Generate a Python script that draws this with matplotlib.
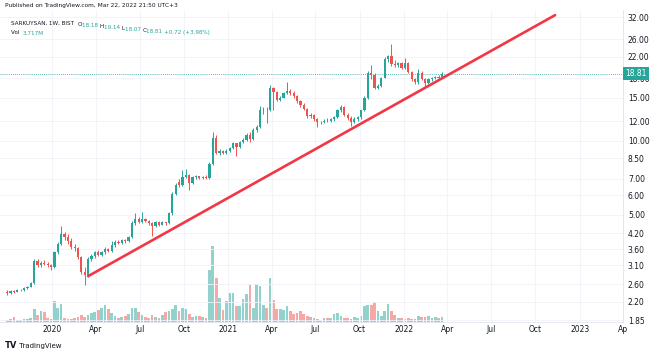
import numpy as np
import pandas as pd
import matplotlib
matplotlib.use("Agg")
import matplotlib.pyplot as plt
import matplotlib.dates as mdates
import matplotlib.transforms as mtransforms
from matplotlib.text import Annotation
from matplotlib.ticker import NullLocator

# SARKUYSAN weekly candles, week of 2019-09-30 .. 2022-03-21
start_week = "2019-09-30"
opens = [2.42, 2.38, 2.43, 2.42, 2.46, 2.45, 2.51, 2.54, 2.62, 3.22,
         3.10, 3.16, 3.14, 3.12, 3.05, 3.50, 3.80, 4.15, 4.05, 3.90,
         3.70, 3.65, 3.35, 2.92, 2.82, 3.30, 3.38, 3.50, 3.42, 3.50,
         3.62, 3.55, 3.75, 3.87, 3.82, 3.93, 3.88, 4.03, 4.60, 4.80,
         4.65, 4.78, 4.72, 4.60, 4.50, 4.67, 4.55, 4.64, 4.60, 5.05,
         6.09, 6.80, 6.60, 7.13, 7.24, 6.70, 7.10, 7.15, 7.02, 7.12,
         7.05, 8.05, 10.25, 8.90, 9.05, 8.90, 9.10, 9.35, 9.75, 9.40,
         9.85, 10.10, 10.55, 10.20, 11.05, 11.40, 13.35, 13.40, 13.30, 16.40,
         15.80, 14.70, 15.00, 15.60, 16.00, 15.70, 15.20, 14.50, 14.00, 13.50,
         12.60, 12.80, 12.30, 11.90, 11.95, 12.10, 12.00, 12.25, 12.50, 13.30,
         13.80, 12.80, 12.40, 11.95, 12.30, 12.45, 13.30, 14.90, 19.00, 18.60,
         16.50, 16.80, 18.10, 21.60, 22.10, 20.60, 20.30, 20.70, 19.90, 20.80,
         19.10, 17.80, 17.30, 19.00, 17.90, 17.20, 17.80, 18.00, 18.25, 18.18]
highs = [2.45, 2.45, 2.47, 2.48, 2.49, 2.53, 2.56, 2.64, 3.30, 3.28,
         3.22, 3.25, 3.20, 3.15, 3.55, 3.85, 4.50, 4.25, 4.15, 4.00,
         3.80, 3.70, 3.40, 3.05, 3.35, 3.45, 3.55, 3.58, 3.55, 3.70,
         3.66, 3.90, 3.95, 3.92, 3.98, 3.97, 4.08, 4.70, 5.05, 4.90,
         5.10, 4.85, 4.75, 4.65, 4.72, 4.70, 4.70, 4.68, 5.10, 6.15,
         6.70, 6.95, 7.60, 7.70, 7.30, 7.20, 7.25, 7.20, 7.20, 7.25,
         8.20, 10.90, 10.60, 9.30, 9.15, 9.25, 9.45, 9.90, 9.80, 9.95,
         10.30, 10.80, 10.90, 11.30, 11.60, 13.90, 13.70, 13.80, 16.90, 16.60,
         16.00, 15.20, 15.80, 17.30, 16.30, 15.90, 15.40, 14.70, 14.20, 13.60,
         13.00, 12.90, 12.40, 12.10, 12.30, 12.40, 12.40, 12.60, 13.50, 14.00,
         13.90, 13.00, 12.60, 12.50, 12.60, 13.40, 15.20, 19.30, 20.30, 18.90,
         17.00, 18.30, 21.90, 22.40, 24.90, 21.40, 21.00, 21.00, 21.80, 20.90,
         19.30, 18.00, 19.70, 19.20, 18.10, 18.00, 18.30, 18.40, 18.60, 19.14]
lows = [2.35, 2.36, 2.40, 2.41, 2.43, 2.44, 2.49, 2.52, 2.60, 3.05,
        3.06, 3.10, 3.05, 2.98, 3.02, 3.45, 3.75, 3.95, 3.80, 3.60,
        3.55, 3.30, 2.85, 2.58, 2.78, 3.22, 3.32, 3.38, 3.40, 3.45,
        3.50, 3.52, 3.70, 3.78, 3.80, 3.84, 3.85, 4.00, 4.55, 4.60,
        4.60, 4.65, 4.55, 4.08, 4.45, 4.48, 4.52, 4.55, 4.58, 5.00,
        6.00, 6.50, 6.55, 7.05, 6.29, 6.65, 6.95, 6.95, 6.95, 6.95,
        7.00, 8.00, 8.80, 8.75, 8.80, 8.85, 9.00, 9.25, 8.70, 9.35,
        9.75, 10.00, 9.90, 10.10, 10.90, 11.30, 12.90, 11.80, 13.20, 13.30,
        14.50, 14.60, 14.90, 15.50, 15.40, 15.00, 14.30, 13.80, 13.30, 12.40,
        12.40, 12.10, 11.40, 11.70, 11.80, 11.90, 11.90, 12.10, 12.40, 13.10,
        12.60, 12.20, 11.50, 11.80, 12.10, 12.30, 13.20, 14.80, 17.90, 16.30,
        16.20, 16.60, 18.00, 21.00, 20.20, 20.00, 20.00, 19.60, 19.70, 18.90,
        17.60, 17.00, 17.10, 17.70, 16.40, 17.00, 17.60, 17.80, 17.90, 18.07]
closes = [2.38, 2.43, 2.42, 2.46, 2.45, 2.51, 2.54, 2.62, 3.22, 3.10,
          3.16, 3.14, 3.12, 3.05, 3.50, 3.80, 4.15, 4.05, 3.90, 3.70,
          3.65, 3.35, 2.92, 2.82, 3.30, 3.38, 3.50, 3.42, 3.50, 3.62,
          3.55, 3.75, 3.87, 3.82, 3.93, 3.88, 4.03, 4.60, 4.80, 4.65,
          4.78, 4.72, 4.60, 4.50, 4.67, 4.55, 4.64, 4.60, 5.05, 6.09,
          6.59, 6.60, 7.13, 7.24, 6.70, 7.10, 7.15, 7.02, 7.12, 7.05,
          8.05, 10.25, 8.90, 9.05, 8.90, 9.10, 9.35, 9.75, 9.40, 9.85,
          10.10, 10.55, 10.20, 11.05, 11.40, 13.35, 13.40, 13.30, 16.40, 15.80,
          14.70, 15.00, 15.60, 16.00, 15.70, 15.20, 14.50, 14.00, 13.50, 12.60,
          12.80, 12.30, 11.90, 11.95, 12.10, 12.00, 12.25, 12.50, 13.30, 13.80,
          12.80, 12.40, 11.95, 12.30, 12.45, 13.30, 14.90, 19.00, 18.60, 16.50,
          16.80, 18.10, 21.60, 22.10, 20.60, 20.30, 20.70, 19.90, 20.80, 19.10,
          17.80, 17.30, 19.00, 17.90, 17.20, 17.80, 18.00, 18.25, 18.09, 18.81]
# volume in millions
volumes = [1.6, 2.5, 4.1, 1.6, 1.6, 2.5, 2.5, 3.3, 10.7, 5.7,
           9.0, 8.2, 3.3, 2.5, 17.2, 11.5, 14.8, 3.3, 2.5, 2.5,
           3.3, 4.1, 5.7, 4.1, 5.7, 7.4, 8.2, 9.8, 11.5, 13.9,
           10.7, 7.4, 4.9, 3.3, 4.1, 4.9, 6.6, 11.5, 11.5, 8.2,
           5.7, 4.1, 3.3, 5.7, 4.1, 3.3, 5.7, 8.2, 9.0, 10.7,
           13.9, 9.0, 11.5, 10.7, 6.6, 4.1, 4.9, 4.9, 4.1, 3.3,
           42.6, 62.3, 36.1, 19.7, 9.8, 17.2, 23.8, 23.8, 13.1, 13.1,
           18.9, 23.0, 30.3, 11.5, 31.2, 29.5, 13.9, 11.5, 36.1, 18.0,
           10.7, 10.7, 9.8, 13.1, 9.0, 6.6, 7.4, 9.0, 6.6, 4.9,
           4.1, 3.3, 2.5, 0.8, 3.3, 3.3, 3.3, 6.6, 7.4, 4.9,
           3.3, 3.3, 2.5, 4.1, 3.3, 4.9, 13.1, 13.9, 13.9, 16.4,
           9.0, 4.9, 9.0, 14.8, 9.0, 5.7, 3.3, 3.3, 2.5, 3.3,
           2.5, 2.5, 4.9, 4.1, 4.1, 4.9, 3.3, 4.1, 3.3, 3.717]

trend_dates = ["2020-03-16", "2022-11-11"]
trend_prices = [2.80, 32.6]

price_ticks = [1.85, 2.20, 2.60, 3.10, 3.60, 4.20, 5.00, 6.00, 7.00, 8.50,
               10.00, 12.00, 15.00, 18.00, 22.00, 26.00, 32.00]
time_ticks = ["2020-01-01", "2020-04-01", "2020-07-01", "2020-10-01",
              "2021-01-01", "2021-04-01", "2021-07-01", "2021-10-01",
              "2022-01-01", "2022-04-01", "2022-07-01", "2022-10-01",
              "2023-01-01", "2023-04-01"]
time_labels = ["2020", "Apr", "Jul", "Oct", "2021", "Apr", "Jul", "Oct",
               "2022", "Apr", "Jul", "Oct", "2023", "Ap"]

UP = "#26a69a"
DOWN = "#ef5350"
TEXT = "#131722"
GRID = "#f0f3fa"

plt.rcParams["font.family"] = ["DejaVu Sans"]

x = mdates.date2num(pd.date_range(start_week, periods=len(closes), freq="7D"))
o = np.array(opens)
h = np.array(highs)
l = np.array(lows)
c = np.array(closes)
up = c >= o
colors = np.where(up, UP, DOWN)

W, H = 654, 354
fig = plt.figure(figsize=(W / 100, H / 100), dpi=100)
rect = [0, 1 - 322 / H, 623 / W, (322 - 10) / H]

# volume pane shares the bottom of the price pane
vax = fig.add_axes(rect)
vax.bar(x, volumes, width=5.6, color=colors, alpha=0.5, linewidth=0)
vax.set_ylim(0, 256)
vax.axis("off")

ax = fig.add_axes(rect, sharex=vax)
ax.patch.set_alpha(0)
ax.set_yscale("log")
ax.vlines(x, l, h, colors=colors, linewidth=0.7, zorder=3)
ax.bar(x, np.abs(c - o), bottom=np.minimum(o, c), width=4.6, color=colors,
       linewidth=0, zorder=4)

ax.plot(mdates.datestr2num(trend_dates), trend_prices, color="#f23645",
        linewidth=1.9, solid_capstyle="round", zorder=5)

ax.axhline(closes[-1], color=UP, linewidth=0.6, linestyle=(0, (1, 1.5)), zorder=2)

ax.set_ylim(1.82, 34.2)
ax.set_xlim(mdates.datestr2num("2019-09-15"), mdates.datestr2num("2023-04-01"))

ax.yaxis.tick_right()
ax.set_yticks(price_ticks)
ax.set_yticklabels([f"{p:.2f}" for p in price_ticks])
ax.yaxis.set_minor_locator(NullLocator())
ax.set_xticks(mdates.datestr2num(time_ticks))
ax.set_xticklabels(time_labels)
ax.tick_params(axis="both", length=0, labelsize=5.5, labelcolor=TEXT)
ax.tick_params(axis="y", pad=3.5)
ax.tick_params(axis="x", pad=2)
ax.grid(True, color=GRID, linewidth=0.6)
ax.set_axisbelow(True)
for side in ["top", "left"]:
    ax.spines[side].set_visible(False)
for side in ["right", "bottom"]:
    ax.spines[side].set_color("#e0e3eb")
    ax.spines[side].set_linewidth(0.6)

# last price label (sits over the 18.00 tick, as in TradingView)
trans = mtransforms.blended_transform_factory(ax.transAxes, ax.transData)
ax.text(1.003, closes[-1], f"{closes[-1]:.2f}", transform=trans, color="white",
        fontsize=5.5, va="center", ha="left", zorder=10, clip_on=False,
        bbox=dict(boxstyle="square,pad=0.3", fc=UP, ec="none"))

# header
fig.text(5 / W, 1 - 6 / H, "Published on TradingView.com, Mar 22, 2022 21:50 UTC+3",
         fontsize=4.2, color=TEXT, va="center")


def chain_text(parts, x0, y0, size=4.1):
    prev = fig.text(x0, y0, parts[0][0], color=parts[0][1], fontsize=size,
                    va="baseline")
    for txt, col in parts[1:]:
        prev = fig.add_artist(Annotation(txt, xy=(1, 0), xycoords=prev, color=col,
                                         fontsize=size, va="baseline"))
    return prev


chain_text([("SARKUYSAN, 1W, BIST  ", TEXT), ("O", TEXT), ("18.18 ", UP),
            ("H", TEXT), ("19.14 ", UP), ("L", TEXT), ("18.07 ", UP),
            ("C", TEXT), ("18.81 ", UP), ("+0.72 (+3.98%)", UP)],
           11 / W, 1 - 25 / H)
chain_text([("Vol  ", TEXT), ("3.717M", UP)], 11 / W, 1 - 34 / H)

# footer logo
logo = fig.text(5 / W, 1 - 346 / H, "TV", fontsize=6, fontweight="bold", color=TEXT,
                va="center")
fig.add_artist(Annotation(" TradingView", xy=(1, 0.5), xycoords=logo,
                          fontsize=5, color=TEXT, va="center"))

fig.savefig("out.png", dpi=100)
